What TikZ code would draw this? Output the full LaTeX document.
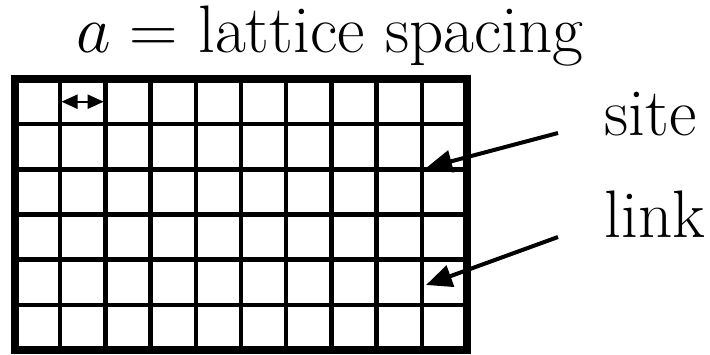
\RequirePackage{fix-cm}
\documentclass[tikz,border=0pt]{standalone}
\usetikzlibrary{arrows.meta}
\tikzset{
  gridline/.style={line width=2.25pt},
  border/.style={line width=4pt},
  pointer/.style={line width=2pt,-{Triangle[length=13pt,width=11pt]}},
  spacing/.style={line width=1pt,{Triangle[length=8pt,width=7pt]}-{Triangle[length=8pt,width=7pt]}},
  label/.style={inner sep=0pt,font=\fontsize{33.6}{40}\selectfont}
}
\begin{document}
\begin{tikzpicture}[x=0.5pt,y=-0.5pt]
\useasboundingbox (0,0) rectangle (710,354);
% grid
\foreach \i in {1,...,9} \draw[gridline] ({15+45.2*\i},79) -- ({15+45.2*\i},350);
\foreach \j in {1,...,5} \draw[gridline] (15,{79+45.17*\j}) -- (467,{79+45.17*\j});
\draw[border] (15,79) rectangle (467,350);
% lattice spacing arrow
\coordinate (sa) at (61.5,101.7);
\coordinate (sb) at (103.7,101.7);
\draw[spacing] (sa) -- (sb);
% labels
\node[label,anchor=base] (title) at (330,52) {$a =$ lattice spacing};
\node[label,anchor=base west] (site) at (604,135) {site};
\node[label,anchor=base west] (link) at (604,237) {link};
% pointers
\coordinate (sitestart) at (558,133);
\coordinate (sitept) at (426,168);
\coordinate (linkstart) at (558,237);
\coordinate (linkpt) at (426,285);
\draw[pointer] (sitestart) -- (sitept);
\draw[pointer] (linkstart) -- (linkpt);
\end{tikzpicture}
\end{document}
